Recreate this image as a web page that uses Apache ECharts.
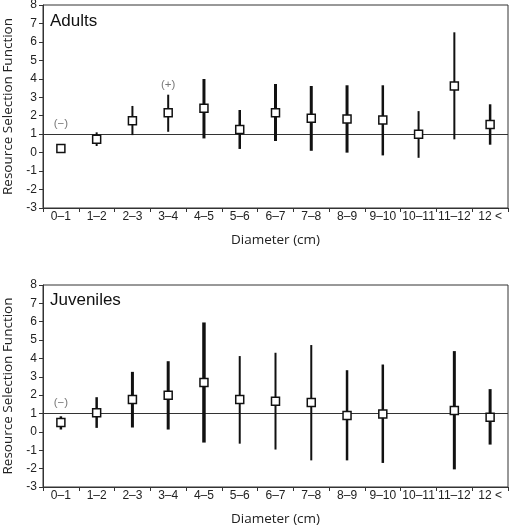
<!DOCTYPE html>
<html><head><meta charset="utf-8">
<script src="https://cdn.jsdelivr.net/npm/echarts@6/dist/echarts.min.js"></script>
<style>html,body{margin:0;padding:0;background:#fff}#c{width:509px;height:526px}</style>
</head><body><div id="c"></div>
<script>
const categories = ['0–1','1–2','2–3','3–4','4–5','5–6','6–7','7–8','8–9','9–10','10–11','11–12','12 <'];
const yTicks = { min: -3, max: 8, interval: 1 };

const adultMean = [0.23,0.72,1.73,2.16,2.40,1.26,2.16,1.86,1.82,1.77,1.00,3.61,1.53];
const adultLow  = [null,0.36,0.95,1.13,0.77,0.20,0.63,0.10,0.00,-0.15,-0.28,0.72,0.43];
const adultHigh = [null,1.10,2.53,3.14,3.99,2.31,3.72,3.61,3.65,3.65,2.25,6.52,2.62];

const juvMean = [0.51,1.04,1.76,2.00,2.69,1.76,1.67,1.60,0.89,0.98,null,1.16,0.80];
const juvLow  = [0.13,0.22,0.24,0.13,-0.58,-0.64,-0.96,-1.55,-1.55,-1.69,null,-2.04,-0.69];
const juvHigh = [0.85,1.89,3.27,3.85,5.96,4.13,4.31,4.73,3.36,3.67,null,4.40,2.33];

const referenceLine = 1;

// annotation labels: [category, y value, text]
const adultNotes = [['0–1',1.55,'(−)'],['3–4',3.70,'(+)']];
const juvNotes = [['0–1',1.58,'(−)']];

// styles (error-bar stroke widths)
const adultWidths = [2,2,2,2,3,2.5,3,3,3,2.5,2,2,2.5];
const juvWidths = [2.5,2.5,3,3,3.5,2,2,2,2.5,2.5,2,3,3];

const chart = echarts.init(document.getElementById('c'), null, {renderer:'canvas'});
const tickFont = {color:'#222', fontSize:12, fontFamily:'Liberation Sans, Arial, sans-serif'};
const titleFont = {color:'#222', fontSize:13.5, fontFamily:'Open Sans, sans-serif'};

function xAxis(gi){
  return {type:'category', gridIndex:gi, data:categories, boundaryGap:true,
    name:'Diameter (cm)', nameLocation:'middle', nameGap:25, nameTextStyle:titleFont,
    axisLine:{onZero:false, lineStyle:{color:'#333',width:1}},
    axisTick:{show:true,length:4,lineStyle:{color:'#333'}},
    axisLabel:Object.assign({margin:3, interval:0}, tickFont),
    splitLine:{show:false}};
}
function yAxis(gi){
  return {type:'value', gridIndex:gi, min:yTicks.min, max:yTicks.max, interval:yTicks.interval,
    name:'Resource Selection Function', nameLocation:'middle', nameGap:28, nameRotate:90, nameTextStyle:titleFont,
    axisLine:{show:true,onZero:false,lineStyle:{color:'#333',width:1}},
    axisTick:{show:true,length:4,lineStyle:{color:'#333'}},
    axisLabel:Object.assign({margin:6}, tickFont),
    splitLine:{show:false}};
}
function errSeries(gi, low, high, widths){
  const data = [];
  categories.forEach((c,i)=>{ if(low[i]!=null && high[i]!=null) data.push([i, low[i], high[i], widths[i]]); });
  return {type:'custom', xAxisIndex:gi, yAxisIndex:gi, z:3,
    renderItem:function(params, api){
      const p1 = api.coord([api.value(0), api.value(1)]);
      const p2 = api.coord([api.value(0), api.value(2)]);
      return {type:'line', shape:{x1:p1[0],y1:p1[1],x2:p2[0],y2:p2[1]},
        style:{stroke:'#111', lineWidth:api.value(3)}};
    },
    encode:{x:0, y:[1,2]}, data:data, silent:true};
}
function meanSeries(gi, mean){
  const data = [];
  categories.forEach((c,i)=>{ if(mean[i]!=null) data.push([c, mean[i]]); });
  return {type:'scatter', xAxisIndex:gi, yAxisIndex:gi, z:5, symbol:'rect', symbolSize:8,
    itemStyle:{color:'#fff', borderColor:'#111', borderWidth:1.5, opacity:1},
    data:data, silent:true,
    markLine:{silent:true, symbol:'none', label:{show:false},
      lineStyle:{color:'#333', width:1, type:'solid'}, data:[{yAxis:referenceLine}], z:2}};
}
function noteSeries(gi, notes){
  return {type:'scatter', xAxisIndex:gi, yAxisIndex:gi, symbolSize:0, z:6,
    data:notes.map(n=>({value:[n[0],n[1]], label:{show:true, formatter:n[2]}})),
    label:{position:'inside', color:'#555', fontSize:11.5, fontFamily:'Liberation Sans, Arial, sans-serif'}};
}

chart.setOption({
  animation:false,
  backgroundColor:'#fff',
  grid:[
    {left:43, top:5, width:465, height:203, show:true, borderColor:'#333', borderWidth:1, backgroundColor:'transparent', containLabel:false, outerBoundsMode:'none'},
    {left:43, top:285, width:465, height:202, show:true, borderColor:'#333', borderWidth:1, backgroundColor:'transparent', containLabel:false, outerBoundsMode:'none'}
  ],
  title:[
    {text:'Adults', left:45, top:8, textStyle:{fontSize:17, fontWeight:'normal', color:'#111', fontFamily:'Liberation Sans, Arial, sans-serif'}},
    {text:'Juveniles', left:45, top:287, textStyle:{fontSize:17, fontWeight:'normal', color:'#111', fontFamily:'Liberation Sans, Arial, sans-serif'}}
  ],
  xAxis:[xAxis(0), xAxis(1)],
  yAxis:[yAxis(0), yAxis(1)],
  series:[
    errSeries(0, adultLow, adultHigh, adultWidths),
    meanSeries(0, adultMean),
    noteSeries(0, adultNotes),
    errSeries(1, juvLow, juvHigh, juvWidths),
    meanSeries(1, juvMean),
    noteSeries(1, juvNotes)
  ]
});
</script></body></html>
